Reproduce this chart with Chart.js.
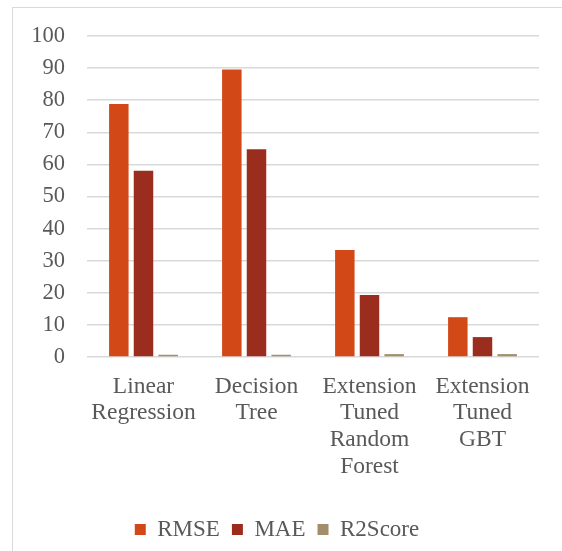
<!DOCTYPE html>
<html>
<head>
<meta charset="utf-8">
<script src="https://cdn.jsdelivr.net/npm/chart.js@4/dist/chart.umd.min.js"></script>
<style>
  html, body { margin: 0; padding: 0; background: #ffffff; overflow: hidden; }
  #frame {
    position: absolute; left: 12px; top: 7px; width: 620px; height: 620px;
    border: 1.5px solid #d9d9d9; box-sizing: border-box;
  }
  #wrap { position: absolute; left: 0; top: 0; width: 562px; height: 551px; }
</style>
</head>
<body>
<div id="frame"></div>
<div id="wrap"><canvas id="c" width="562" height="551"></canvas></div>
<script>
const categories = [
  ["Linear", "Regression"],
  ["Decision", "Tree"],
  ["Extension", "Tuned", "Random", "Forest"],
  ["Extension", "Tuned", "GBT"]
];
const rmse = [78.8, 89.6, 33.3, 12.4];
const mae = [58.0, 64.7, 19.3, 6.2];
const r2score = [0.7, 0.7, 0.9, 0.9];
const yTicks = [0, 10, 20, 30, 40, 50, 60, 70, 80, 90, 100];

const serif = "'Liberation Serif', 'Times New Roman', serif";
const textColor = "#595959";

new Chart(document.getElementById("c"), {
  type: "bar",
  data: {
    labels: categories,
    datasets: [
      { label: "RMSE", data: rmse, backgroundColor: "#D34817" },
      { label: "MAE", data: mae, backgroundColor: "#9B2D1F" },
      { label: "R2Score", data: r2score, backgroundColor: "#A28E6A" }
    ]
  },
  options: {
    responsive: false,
    animation: false,
    devicePixelRatio: 1,
    layout: { padding: { left: 15, right: 23, top: 36, bottom: 0 } },
    datasets: {
      bar: { categoryPercentage: 0.655, barPercentage: 0.79, borderWidth: 0 }
    },
    scales: {
      x: {
        grid: { display: false, drawTicks: false },
        border: { display: false },
        ticks: {
          color: textColor, padding: 16, maxRotation: 0, autoSkip: false,
          font: { family: serif, size: 23.5, lineHeight: 1.136 }
        },
        afterFit(scale) { scale.height = 149; }
      },
      y: {
        min: 0, max: 100,
        afterBuildTicks(scale) { scale.ticks = yTicks.map(v => ({ value: v })); },
        grid: { color: "#d9d9d9", lineWidth: 1.5, drawTicks: false },
        border: { display: false },
        ticks: {
          color: textColor, padding: 22,
          font: { family: serif, size: 22.5 }
        },
        afterFit(scale) { scale.width = 72; }
      }
    },
    plugins: {
      tooltip: { enabled: false },
      legend: {
        position: "bottom",
        labels: {
          boxWidth: 11, boxHeight: 11, padding: 12, color: textColor,
          font: { family: serif, size: 23 }
        }
      }
    }
  }
});
</script>
</body>
</html>
